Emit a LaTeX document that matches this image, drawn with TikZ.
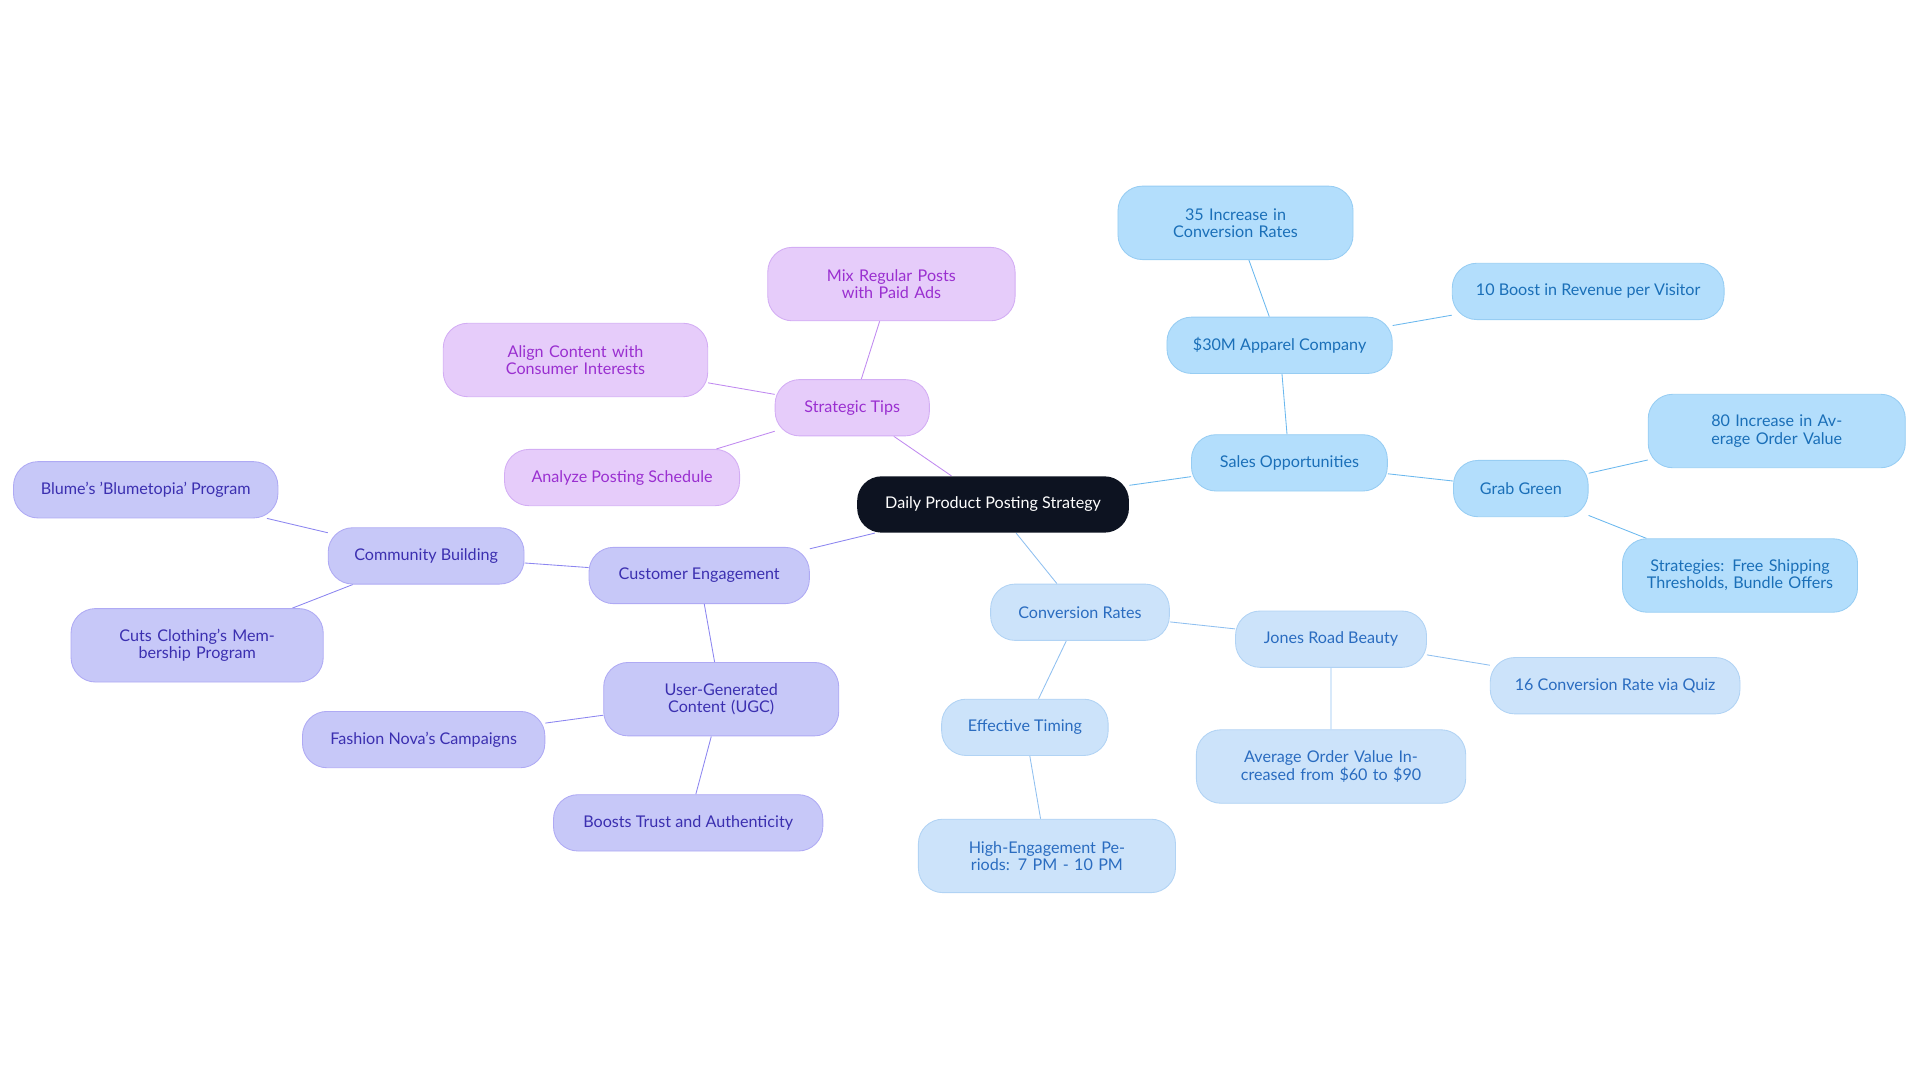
\documentclass[tikz,border=0pt]{standalone}
\usepackage{fontspec}
\setmainfont{Lato}
\usetikzlibrary{backgrounds}
\definecolor{rootfill}{HTML}{0D1321}
\definecolor{salesfill}{HTML}{B3DEFC}
\definecolor{salestext}{HTML}{1A6FB8}
\definecolor{salesline}{HTML}{6BB8EE}
\definecolor{convfill}{HTML}{CCE3FA}
\definecolor{convtext}{HTML}{2A6CC0}
\definecolor{convline}{HTML}{90C0F0}
\definecolor{custfill}{HTML}{C7C8F8}
\definecolor{custtext}{HTML}{3B2FB0}
\definecolor{custline}{HTML}{8C86F0}
\definecolor{tipsfill}{HTML}{E6CCFA}
\definecolor{tipstext}{HTML}{9A2FD0}
\definecolor{tipsline}{HTML}{C08AF0}
\begin{document}
\begin{tikzpicture}[
    x=0.02cm, y=-0.02cm,
    font=\fontsize{7.5}{8}\selectfont,
    % --- styles ---
    idea/.style={rounded corners=0.4cm, minimum height=0.92cm, align=center, inner sep=2pt},
    root box/.style={idea, fill=rootfill, text=white},
    sales box/.style={idea, fill=salesfill, draw=salesline!70, text=salestext},
    conv box/.style={idea, fill=convfill, draw=convline!70, text=convtext},
    cust box/.style={idea, fill=custfill, draw=custline!70, text=custtext},
    tips box/.style={idea, fill=tipsfill, draw=tipsline!70, text=tipstext},
    two lines/.style={minimum height=1.2cm, text width=#1}
]
    \useasboundingbox (0,0) rectangle (1568,884);

    % root
    \node[root box, minimum width=4.44cm] (root) at (811,412) {Daily Product Posting Strategy};

    % sales branch
    \node[sales box, minimum width=3.2cm] (sales) at (1053,378) {Sales Opportunities};
    \node[sales box, minimum width=3.68cm] (apparel) at (1045,282) {\$30M Apparel Company};
    \node[sales box, two lines=3.2cm, minimum width=3.84cm] (conv35) at (1009,182) {35 Increase in Conversion Rates};
    \node[sales box, minimum width=4.44cm] (boost10) at (1297,238) {10 Boost in Revenue per Visitor};
    \node[sales box, minimum width=2.2cm] (grab) at (1242,399) {Grab Green};
    \node[sales box, two lines=3.6cm, minimum width=4.2cm] (aov80) at (1451,352) {80 Increase in Average Order Value};
    \node[sales box, two lines=3.3cm, minimum width=3.84cm] (strat) at (1421,470) {Strategies: Free Shipping Thresholds, Bundle Offers};

    % conversion branch
    \node[conv box, minimum width=2.92cm] (convr) at (882,500) {Conversion Rates};
    \node[conv box, minimum width=3.12cm] (jones) at (1087,522) {Jones Road Beauty};
    \node[conv box, minimum width=4.08cm] (quiz) at (1319,560) {16 Conversion Rate via Quiz};
    \node[conv box, two lines=3.8cm, minimum width=4.4cm] (avg) at (1087,626) {Average Order Value Increased from \$60 to \$90};
    \node[conv box, minimum width=2.72cm] (timing) at (837,594) {Effective Timing};
    \node[conv box, two lines=3.5cm, minimum width=4.2cm] (periods) at (855,699) {High-Engagement Periods: 7 PM - 10 PM};

    % customer branch
    \node[cust box, minimum width=3.6cm] (cust) at (571,470) {Customer Engagement};
    \node[cust box, minimum width=3.2cm] (comm) at (348,454) {Community Building};
    \node[cust box, minimum width=4.32cm] (blume) at (119,400) {Blume's 'Blumetopia' Program};
    \node[cust box, two lines=3.5cm, minimum width=4.12cm] (cuts) at (161,527) {Cuts Clothing's Membership Program};
    \node[cust box, two lines=3.2cm, minimum width=3.84cm] (ugc) at (589,571) {User-Generated Content (UGC)};
    \node[cust box, minimum width=3.96cm] (nova) at (346,604) {Fashion Nova's Campaigns};
    \node[cust box, minimum width=4.4cm] (trust) at (562,672) {Boosts Trust and Authenticity};

    % tips branch
    \node[tips box, minimum width=2.52cm] (tips) at (696,333) {Strategic Tips};
    \node[tips box, two lines=3.4cm, minimum width=4.04cm] (mix) at (728,232) {Mix Regular Posts with Paid Ads};
    \node[tips box, two lines=3.6cm, minimum width=4.32cm] (align) at (470,294) {Align Content with Consumer Interests};
    \node[tips box, minimum width=3.84cm] (analyze) at (508,390) {Analyze Posting Schedule};

    % connectors
    \begin{scope}[on background layer, line width=0.8pt]
        \draw[salesline] (root) -- (sales) (sales) -- (apparel) (apparel) -- (conv35)
            (apparel) -- (boost10) (sales) -- (grab) (grab) -- (aov80) (grab) -- (strat);
        \draw[convline] (root) -- (convr) (convr) -- (jones) (jones) -- (quiz)
            (jones) -- (avg) (convr) -- (timing) (timing) -- (periods);
        \draw[custline] (root) -- (cust) (cust) -- (comm) (comm) -- (blume)
            (comm) -- (cuts) (cust) -- (ugc) (ugc) -- (nova) (ugc) -- (trust);
        \draw[tipsline] (root) -- (tips) (tips) -- (mix) (tips) -- (align) (tips) -- (analyze);
    \end{scope}
\end{tikzpicture}
\end{document}
